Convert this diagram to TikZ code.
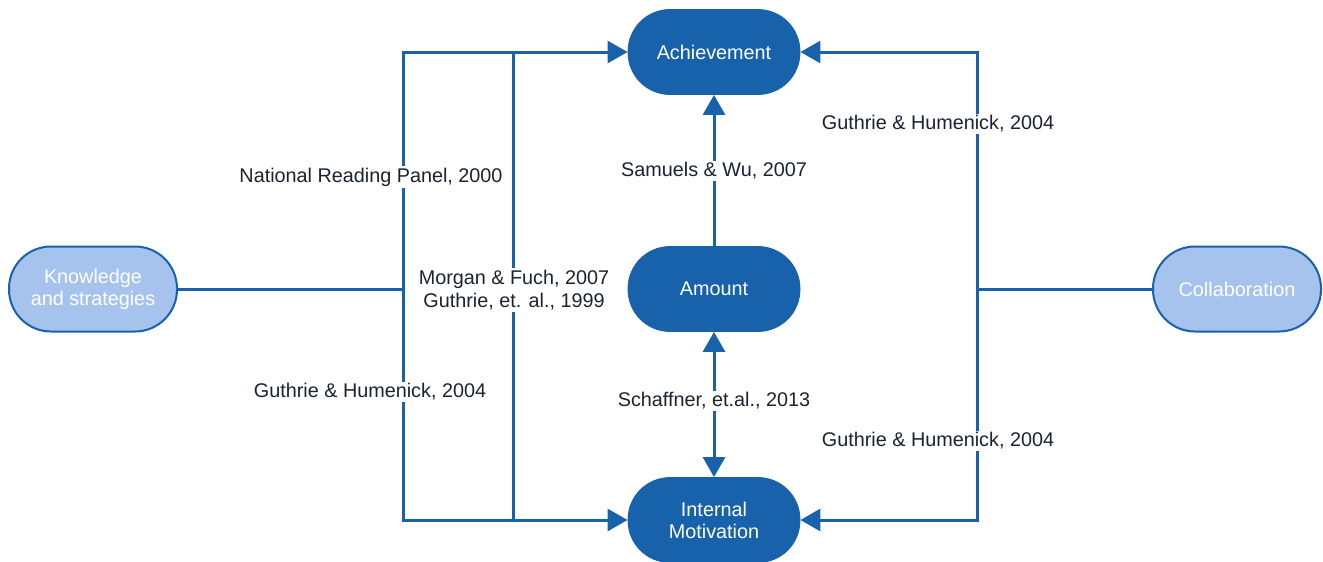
\documentclass[tikz,border=0pt]{standalone}
\usepackage{fontspec}
\setmainfont{Liberation Sans}
\usetikzlibrary{arrows.meta}
\definecolor{darkblue}{HTML}{1762AA}
\definecolor{lightblue}{HTML}{A6C3EE}
\definecolor{labeltext}{HTML}{1A2430}
\begin{document}
\begin{tikzpicture}[x=0.5pt, y=-0.5pt,
    main/.style={draw=darkblue, fill=darkblue, text=white, rounded corners=21pt,
      minimum width=86pt, minimum height=42.5pt, align=center,
      font=\fontsize{9.9}{11}\selectfont},
    side/.style={draw=darkblue, line width=1pt, fill=lightblue, text=white, rounded corners=21pt,
      minimum width=84pt, minimum height=42.5pt, align=center,
      font=\fontsize{9.9}{11}\selectfont},
    line/.style={draw=darkblue, line width=1.5pt},
    arr/.style={line, -{Triangle[length=10pt,width=11pt]}},
    dbl/.style={line, {Triangle[length=10pt,width=11pt]}-{Triangle[length=10pt,width=11pt]}},
    lbl/.style={fill=white, text=labeltext, inner sep=1pt, align=center,
      font=\fontsize{9.9}{11.5}\selectfont}]
      \useasboundingbox (0,0) rectangle (1323,562);
      %
      \node[main] (ach) at (714,52) {Achievement};
      \node[main] (amt) at (714,289) {Amount};
      \node[main] (mot) at (714,520) {Internal\\Motivation};
      \node[side] (know) at (93,289) {Knowledge\\and strategies};
      \node[side] (coll) at (1237,289) {Collaboration};
      %
      \coordinate (jL) at (403,289);
      \coordinate (jR) at (977,289);
      \coordinate (mTop) at (513,52);
      \coordinate (mBot) at (513,520);
      %
      \draw[line] (know) -- (jL);
      \draw[arr] (jL) |- (ach);
      \draw[arr] (jL) |- (mot);
      \draw[line] (mTop) -- (mBot);
      %
      \draw[line] (coll) -- (jR);
      \draw[arr] (jR) |- (ach);
      \draw[arr] (jR) |- (mot);
      %
      \draw[arr] (amt) -- (ach);
      \draw[dbl] (amt) -- (mot);
      %
      \node[lbl] (nrp) at (371,177) {National Reading Panel, 2000};
      \node[lbl] (mf) at (514,290) {Morgan \& Fuch, 2007\\Guthrie, et. al., 1999};
      \node[lbl] (ghL) at (370,392) {Guthrie \& Humenick, 2004};
      \node[lbl] (sw) at (714,171) {Samuels \& Wu, 2007};
      \node[lbl] (sch) at (714,401) {Schaffner, et.al., 2013};
      \node[lbl] (ghT) at (938,124) {Guthrie \& Humenick, 2004};
      \node[lbl] (ghB) at (938,441) {Guthrie \& Humenick, 2004};
      %
    \end{tikzpicture}
\end{document}
